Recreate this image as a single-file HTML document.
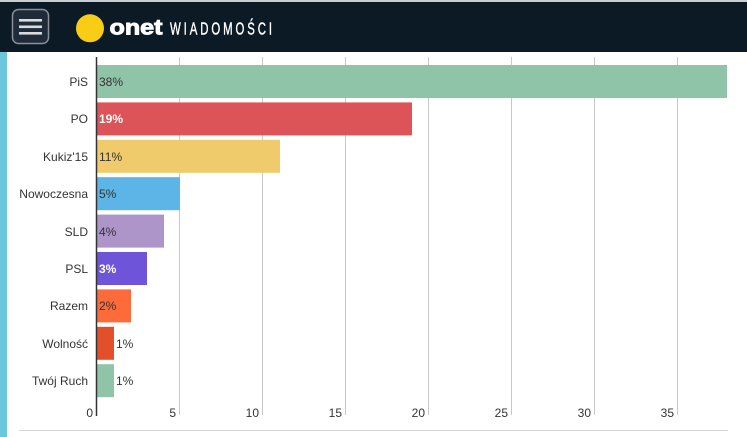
<!DOCTYPE html>
<html><head><meta charset="utf-8"><style>
html,body{margin:0;padding:0;background:#fff;width:747px;height:437px;overflow:hidden;font-family:"Liberation Sans",Arial,sans-serif;}
</style></head><body>
<svg width="747" height="437" viewBox="0 0 747 437" xmlns="http://www.w3.org/2000/svg" font-family="Liberation Sans, Arial, sans-serif">
<rect x="0" y="0" width="747" height="437" fill="#fff"/>
<!-- header -->
<rect x="0" y="0" width="747" height="2" fill="#c8cdd2"/>
<rect x="0" y="2" width="747" height="50" fill="#0c1a25"/>
<rect x="12.5" y="9.5" width="36" height="34" rx="6" fill="#1f2b39" stroke="#8a9099" stroke-width="1.5"/>
<rect x="19" y="19" width="23" height="2.6" fill="#d8dbe0"/>
<rect x="19" y="25.5" width="23" height="2.6" fill="#d8dbe0"/>
<rect x="19" y="32" width="23" height="2.6" fill="#d8dbe0"/>
<circle cx="90" cy="28.3" r="14" fill="#f9cc16"/>
<text x="109.5" y="34.3" font-size="21" font-weight="bold" fill="#fff" stroke="#fff" stroke-width="0.9" textLength="53" lengthAdjust="spacingAndGlyphs">onet</text>
<g transform="translate(170 0) scale(0.65 1)">
<text x="0" y="34.3" font-size="17.5" fill="#fff" stroke="#fff" stroke-width="0.4" textLength="157" lengthAdjust="spacing">WIADOMOŚCI</text>
</g>
<!-- left strip -->
<rect x="0" y="52" width="7" height="385" fill="#6cc6dc"/>
<!-- gridlines -->
<g stroke="#c9c9c9" stroke-width="1">
<line x1="179.5" y1="57" x2="179.5" y2="415"/>
<line x1="262.5" y1="57" x2="262.5" y2="415"/>
<line x1="345.5" y1="57" x2="345.5" y2="415"/>
<line x1="428.5" y1="57" x2="428.5" y2="415"/>
<line x1="511.5" y1="57" x2="511.5" y2="415"/>
<line x1="594.5" y1="57" x2="594.5" y2="415"/>
<line x1="677.5" y1="57" x2="677.5" y2="415"/>
</g>
<!-- bars -->
<rect x="97" y="65" width="630" height="33" fill="#8fc4a8"/>
<rect x="97" y="102.4" width="315" height="33" fill="#dc5358"/>
<rect x="97" y="139.8" width="183" height="33" fill="#f0cb6b"/>
<rect x="97" y="177.2" width="83" height="33" fill="#5db4e6"/>
<rect x="97" y="214.6" width="67" height="33" fill="#ad94c9"/>
<rect x="97" y="252" width="50" height="33" fill="#6d54d8"/>
<rect x="97" y="289.4" width="34" height="33" fill="#fd6b3b"/>
<rect x="97" y="326.8" width="17" height="33" fill="#e24f2a"/>
<rect x="97" y="364.2" width="17" height="33" fill="#8fc4a8"/>
<!-- axis -->
<line x1="96.5" y1="57" x2="96.5" y2="416" stroke="#333" stroke-width="1.5"/>
<!-- category labels -->
<g font-size="12" fill="#333" text-anchor="end">
<text x="88" y="86">PiS</text>
<text x="88" y="123">PO</text>
<text x="88" y="161">Kukiz'15</text>
<text x="88" y="198">Nowoczesna</text>
<text x="88" y="236">SLD</text>
<text x="88" y="273">PSL</text>
<text x="88" y="310">Razem</text>
<text x="88" y="348">Wolność</text>
<text x="88" y="385">Twój Ruch</text>
</g>
<!-- value labels -->
<g font-size="12" fill="#333">
<text x="99" y="86">38%</text>
<text x="99" y="123" fill="#fff" font-weight="bold">19%</text>
<text x="99" y="161">11%</text>
<text x="99" y="198">5%</text>
<text x="99" y="236">4%</text>
<text x="99" y="273" fill="#fff" font-weight="bold">3%</text>
<text x="99" y="310">2%</text>
<text x="116" y="348">1%</text>
<text x="116" y="385">1%</text>
</g>
<!-- tick labels -->
<g font-size="12" fill="#333" text-anchor="end">
<text x="93" y="417">0</text>
<text x="176" y="417">5</text>
<text x="259" y="417">10</text>
<text x="342" y="417">15</text>
<text x="425" y="417">20</text>
<text x="508" y="417">25</text>
<text x="591" y="417">30</text>
<text x="674" y="417">35</text>
</g>
<line x1="19" y1="430.5" x2="728" y2="430.5" stroke="#d6d6d6" stroke-width="1"/>
</svg>
</body></html>
